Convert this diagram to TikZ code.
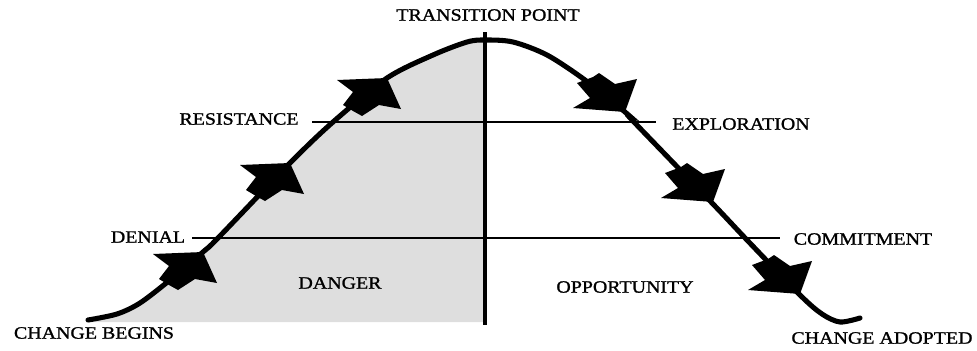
\documentclass[tikz,border=0pt]{standalone}
\usepackage{fontspec}
\setmainfont{Liberation Serif}[FakeStretch=1.15, FakeBold=1.2]

\tikzset{
  stage/.style={font=\fontsize{13}{15}\selectfont, inner sep=0pt},
  guide/.style={line width=2.1pt},
  curve/.style={line width=3.8pt, line cap=round},
  % notched arrowheads, tip at the pic's origin
  rise/.pic={\fill (0,0) -- (-50,2) -- (-34,14) -- (-44,27) -- (-34,33) -- (-25,38) -- (-8,27) -- (14,31) -- cycle;},
  fall/.pic={\fill (0,0) -- (-52,-4) -- (-35,-14) -- (-48,-29) -- (-32,-35) -- (-26,-39) -- (-10,-28) -- (12,-33) -- cycle;}
}

\newcommand{\changecurve}{plot[smooth] coordinates {(88,320) (117,314) (140,303) (170,280) (203,252) (218,238) (290,163) (333,122) (387,78) (433,55) (467,42) (485,40) (513,42) (547,55) (585,80) (625,112) (633,121) (713,204) (747,240) (800,295) (822,314) (840,322) (860,318)}}

\begin{document}
\begin{tikzpicture}[x=0.75pt, y=-0.75pt]
  \useasboundingbox (0,0) rectangle (977,350);

  % shaded danger zone
  \begin{scope}
    \clip (0,0) rectangle (485,322);
    \fill[gray!26] \changecurve -- (860,322) -- (88,322) -- cycle;
  \end{scope}

  % guide lines
  \draw[guide] (312,122) -- (656,122);
  \draw[guide] (192,238) -- (780,238);
  \draw[line width=2.5pt] (485,32) -- (485,325);

  % the curve and its arrows
  \draw[curve] \changecurve;
  \pic at (203,252) {rise};
  \pic at (290,163) {rise};
  \pic at (387,78) {rise};
  \pic at (625,112) {fall};
  \pic at (713,202) {fall};
  \pic at (800,294) {fall};

  % labels
  \node[stage] (transition) at (488,15) {TRANSITION POINT};
  \node[stage] (resistance) at (239,119) {RESISTANCE};
  \node[stage] (denial) at (148,237) {DENIAL};
  \node[stage] (danger) at (340,283) {DANGER};
  \node[stage] (opportunity) at (625,287) {OPPORTUNITY};
  \node[stage] (exploration) at (741,124) {EXPLORATION};
  \node[stage] (commitment) at (863,239) {COMMITMENT};
  \node[stage] (begins) at (94,333) {CHANGE BEGINS};
  \node[stage] (adopted) at (882,338) {CHANGE ADOPTED};
\end{tikzpicture}
\end{document}
